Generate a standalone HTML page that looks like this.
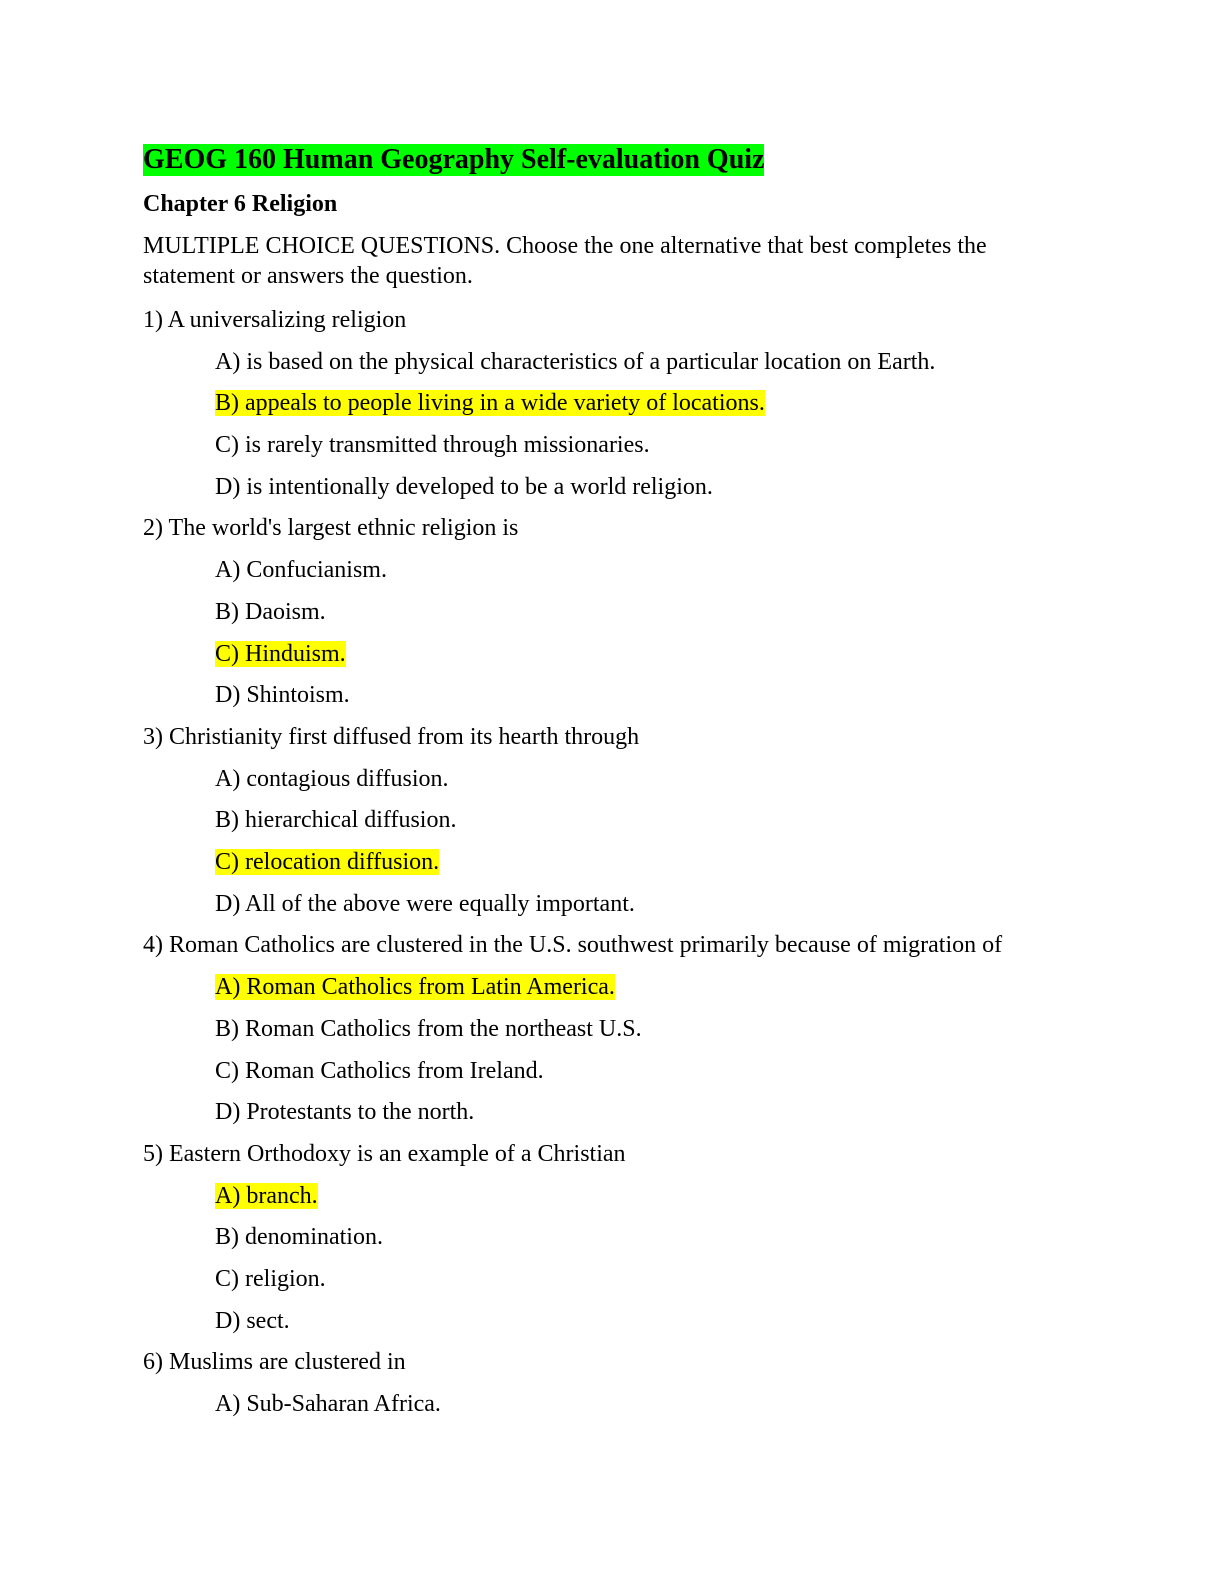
<!DOCTYPE html>
<html><head><meta charset="utf-8"><style>
body{margin:0;width:1224px;height:1584px;background:#fff;position:relative;font-family:"Liberation Serif",serif;color:#000}
.l{position:absolute;font-size:24px;line-height:27px;white-space:nowrap}
.a{left:215px}.q{left:143px}
.y{background:#ffff00}
.t{position:absolute;left:143px;top:144px;font-size:28px;line-height:32px;font-weight:bold;background:#00ff00;white-space:nowrap}
</style></head><body>
<div class="t">GEOG 160 Human Geography Self-evaluation Quiz</div>
<div class="l q" style="top:191px;font-weight:bold">Chapter 6 Religion</div>
<div class="l q" style="top:233px">MULTIPLE CHOICE QUESTIONS. Choose the one alternative that best completes the</div>
<div class="l q" style="top:263px">statement or answers the question.</div>
<div class="l q" style="top:307px">1) A universalizing religion</div>
<div class="l a" style="top:349px">A) is based on the physical characteristics of a particular location on Earth.</div>
<div class="l a" style="top:390px"><span class="y">B) appeals to people living in a wide variety of locations.</span></div>
<div class="l a" style="top:432px">C) is rarely transmitted through missionaries.</div>
<div class="l a" style="top:474px">D) is intentionally developed to be a world religion.</div>
<div class="l q" style="top:515px">2) The world's largest ethnic religion is</div>
<div class="l a" style="top:557px">A) Confucianism.</div>
<div class="l a" style="top:599px">B) Daoism.</div>
<div class="l a" style="top:641px"><span class="y">C) Hinduism.</span></div>
<div class="l a" style="top:682px">D) Shintoism.</div>
<div class="l q" style="top:724px">3) Christianity first diffused from its hearth through</div>
<div class="l a" style="top:766px">A) contagious diffusion.</div>
<div class="l a" style="top:807px">B) hierarchical diffusion.</div>
<div class="l a" style="top:849px"><span class="y">C) relocation diffusion.</span></div>
<div class="l a" style="top:891px">D) All of the above were equally important.</div>
<div class="l q" style="top:932px">4) Roman Catholics are clustered in the U.S. southwest primarily because of migration of</div>
<div class="l a" style="top:974px"><span class="y">A) Roman Catholics from Latin America.</span></div>
<div class="l a" style="top:1016px">B) Roman Catholics from the northeast U.S.</div>
<div class="l a" style="top:1058px">C) Roman Catholics from Ireland.</div>
<div class="l a" style="top:1099px">D) Protestants to the north.</div>
<div class="l q" style="top:1141px">5) Eastern Orthodoxy is an example of a Christian</div>
<div class="l a" style="top:1183px"><span class="y">A) branch.</span></div>
<div class="l a" style="top:1224px">B) denomination.</div>
<div class="l a" style="top:1266px">C) religion.</div>
<div class="l a" style="top:1308px">D) sect.</div>
<div class="l q" style="top:1349px">6) Muslims are clustered in</div>
<div class="l a" style="top:1391px">A) Sub-Saharan Africa.</div>
</body></html>
